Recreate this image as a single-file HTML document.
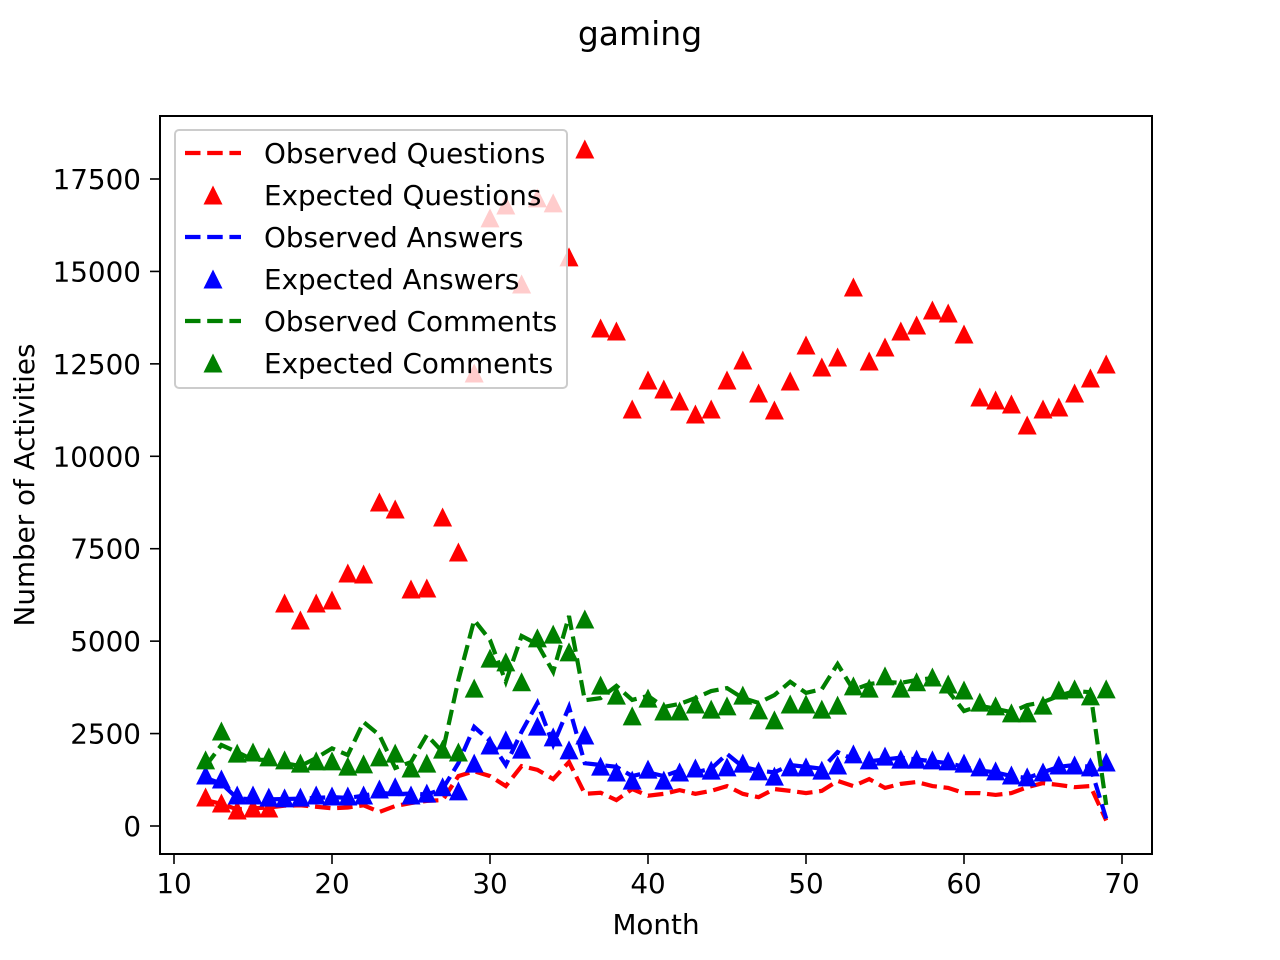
<!DOCTYPE html>
<html><head><meta charset="utf-8"><style>
body{margin:0;background:#fff;}
svg{display:block;font-family:"DejaVu Sans","Liberation Sans",sans-serif;}
</style></head><body>
<svg id="chart" width="1280" height="960" viewBox="0 0 1280 960" xmlns="http://www.w3.org/2000/svg">
<rect width="1280" height="960" fill="#fff"/>
<text x="640" y="45" font-size="33" text-anchor="middle">gaming</text>
<g id="plot"></g>
<rect x="160" y="116" width="992" height="738" fill="none" stroke="#000" stroke-width="2"/>
<text x="656" y="934" font-size="27.8" text-anchor="middle">Month</text>
<text transform="translate(34,485) rotate(-90)" font-size="27.8" text-anchor="middle">Number of Activities</text>
<g id="legend"></g>
</svg>
<script>
const months = [];
for (let m = 12; m <= 69; m++) months.push(m);
const obsQuestions = [700,600,450,480,500,550,560,520,480,500,560,380,540,620,680,700,1350,1480,1350,1080,1620,1520,1270,1730,870,900,700,1000,820,870,970,870,950,1080,870,780,1000,950,890,950,1220,1080,1270,1030,1140,1190,1080,1030,890,890,840,890,1050,1160,1110,1050,1080,150];
const expQuestions = [784,622,433,487,487,6033,5572,6032,6113,6844,6817,8764,8575,6411,6438,8358,7411,12254,16447,16798,14661,16988,16853,15392,18313,13471,13390,11280,12064,11821,11496,11145,11280,12064,12605,11713,11253,12037,13010,12416,12686,14580,12578,12957,13390,13552,13958,13877,13309,11604,11523,11415,10847,11280,11334,11713,12118,12497];
const obsAnswers = [1300,1150,750,720,720,730,740,760,780,760,820,900,860,880,850,1000,1700,2680,2300,1650,2550,3330,2200,3220,1700,1650,1600,1350,1450,1350,1500,1450,1550,1950,1600,1500,1450,1650,1600,1550,2000,1800,1750,1800,1850,1800,1750,1700,1600,1500,1450,1350,1300,1450,1600,1650,1600,200];
const expAnswers = [1380,1270,840,840,780,760,780,840,810,810,840,1000,1060,840,890,1060,950,1700,2190,2330,2080,2700,2410,2060,2460,1620,1460,1240,1540,1240,1460,1570,1510,1600,1700,1490,1350,1600,1600,1510,1650,1950,1790,1890,1810,1810,1790,1760,1700,1600,1490,1380,1330,1460,1650,1650,1600,1730];
const obsComments = [1620,2190,2000,1790,1790,1700,1620,1840,2100,1920,2810,2460,1570,1730,2460,2000,3950,5570,5030,3900,5140,4920,4170,5680,3400,3460,3790,3410,3520,3220,3300,3460,3650,3730,3460,3330,3540,3900,3600,3700,4380,3680,3840,3900,3870,3950,4000,3650,3110,3250,3170,3080,3270,3350,3520,3650,3620,570];
const expComments = [1790,2570,1970,2000,1870,1790,1700,1760,1760,1620,1680,1870,1970,1570,1700,2080,2000,3730,4540,4440,3900,5090,5190,4710,5600,3810,3540,2980,3460,3110,3110,3300,3160,3250,3540,3140,2870,3300,3300,3160,3270,3790,3730,4060,3730,3900,4030,3840,3680,3350,3250,3060,3060,3270,3680,3710,3520,3710];
const xTicks = [10,20,30,40,50,60,70];
const yTicks = [0,2500,5000,7500,10000,12500,15000,17500];
const legendLabels = ["Observed Questions","Expected Questions","Observed Answers","Expected Answers","Observed Comments","Expected Comments"];

const NS = "http://www.w3.org/2000/svg";
const X = v => 174 + (v - 10) * 15.8;
const Y = v => 826 - v * (647 / 17500);
const plot = document.getElementById('plot');
function mk(tag, attrs, parent) {
  const e = document.createElementNS(NS, tag);
  for (const k in attrs) e.setAttribute(k, attrs[k]);
  parent.appendChild(e);
  return e;
}
function tri(cx, cy, color, parent) {
  const h = 9.5;
  return mk('polygon', {points: `${cx},${cy-h} ${cx-h},${cy+h} ${cx+h},${cy+h}`, fill: color}, parent);
}
xTicks.forEach(t => {
  const l = mk('line', {x1: X(t), x2: X(t), y1: 854, y2: 864, stroke: '#000', 'stroke-width': 1.6}, plot);
  
  
  const tx = mk('text', {x: X(t), y: 893, 'font-size': 27.8, 'text-anchor': 'middle'}, plot);
  tx.textContent = t;
  
  
});
yTicks.forEach(t => {
  const l = mk('line', {x1: 150, x2: 160, y1: Y(t), y2: Y(t), stroke: '#000', 'stroke-width': 1.6}, plot);
  
  
  const tx = mk('text', {x: 141, y: Y(t) + 10, 'font-size': 27.8, 'text-anchor': 'end'}, plot);
  tx.textContent = t;
  
  
});
const series = [
  {vals: obsQuestions, color: 'red', type: 'line', name: 'observed-questions-line'},
  {vals: expQuestions, color: 'red', type: 'tri', name: 'expected-questions-marker'},
  {vals: obsAnswers, color: 'blue', type: 'line', name: 'observed-answers-line'},
  {vals: expAnswers, color: 'blue', type: 'tri', name: 'expected-answers-marker'},
  {vals: obsComments, color: '#008000', type: 'line', name: 'observed-comments-line'},
  {vals: expComments, color: '#008000', type: 'tri', name: 'expected-comments-marker'}
];
series.forEach(s => {
  if (s.type === 'line') {
    const pts = s.vals.map((v, i) => X(months[i]) + ',' + Y(v)).join(' ');
    const p = mk('polyline', {points: pts, fill: 'none', stroke: s.color, 'stroke-width': 4.2, 'stroke-dasharray': '15.5 6.7'}, plot);
    
    
  } else {
    s.vals.forEach((v, i) => {
      const t = tri(X(months[i]), Y(v), s.color, plot);
      
      
    });
  }
});
const lg = document.getElementById('legend');
const box = mk('rect', {x: 175, y: 130, width: 392, height: 258, rx: 4, fill: '#fff', 'fill-opacity': 0.8, stroke: '#ccc', 'stroke-width': 2}, lg);


const lcolors = ['red','red','blue','blue','#008000','#008000'];
legendLabels.forEach((lab, i) => {
  const y = 153 + i * 42;
  if (i % 2 === 0) {
    const l = mk('line', {x1: 185, x2: 241, y1: y, y2: y, stroke: lcolors[i], 'stroke-width': 4.2, 'stroke-dasharray': '15.5 6.7'}, lg);
    
    
  } else {
    const t = tri(213, y, lcolors[i], lg);
    
    
  }
  const tx = mk('text', {x: 264, y: y + 10, 'font-size': 27.8}, lg);
  tx.textContent = lab;
  
  
});
</script>
</body></html>
